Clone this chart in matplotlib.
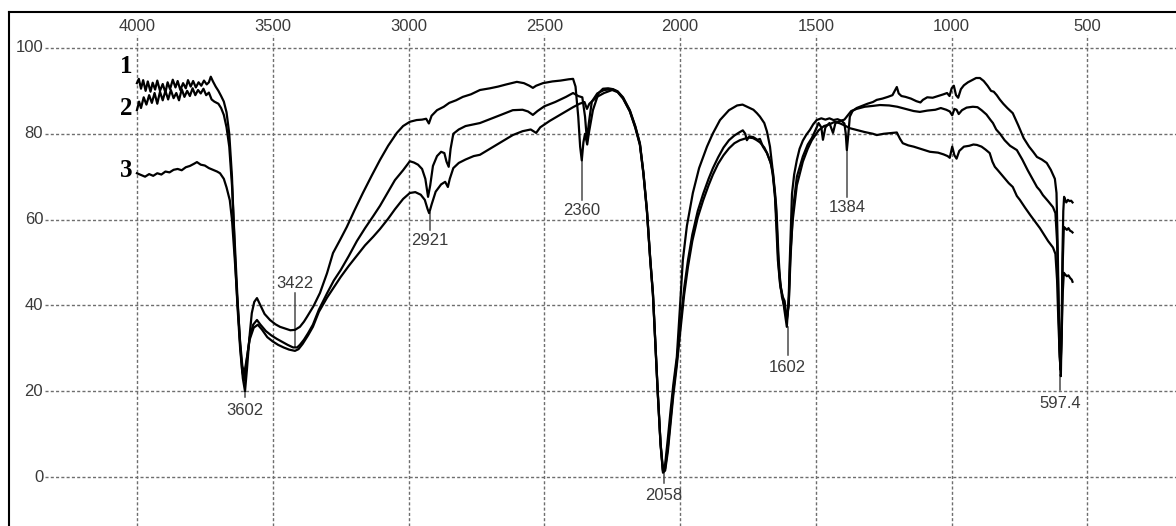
import numpy as np
import matplotlib.pyplot as plt

plt.rcParams['font.family'] = ['Liberation Sans', 'DejaVu Sans']

# IR spectra: (wavenumber cm-1, transmittance %)
curve1 = [(4000, 91.8), (3993, 92.8), (3985, 90.5), (3977, 92.5), (3968, 90.0), (3960, 92.2), (3950, 89.8), (3942, 91.9),
          (3933, 90.3), (3925, 92.4), (3915, 90.0), (3905, 91.6), (3895, 89.6), (3887, 92.0), (3878, 90.4), (3868, 92.6),
          (3858, 90.8), (3850, 92.3), (3840, 90.2), (3830, 91.8), (3820, 90.6), (3812, 92.5), (3802, 91.0), (3793, 92.3),
          (3783, 90.8), (3773, 92.0), (3763, 91.2), (3753, 92.4), (3743, 91.5), (3735, 92.0), (3728, 93.3), (3720, 92.2),
          (3710, 91.0), (3700, 90.0), (3690, 88.8), (3680, 87.5), (3670, 85.0), (3660, 80.0), (3650, 70.0), (3640, 53.0),
          (3630, 40.0), (3620, 30.0), (3610, 23.0), (3602, 20.0), (3595, 25.0), (3585, 33.0), (3577, 38.2), (3568, 40.8),
          (3558, 41.7), (3545, 40.0), (3530, 38.0), (3510, 36.6), (3490, 35.6), (3473, 35.0), (3450, 34.5), (3435, 34.2),
          (3418, 34.3), (3400, 35.0), (3385, 36.2), (3374, 37.3), (3350, 39.8), (3326, 42.9), (3300, 47.5), (3278, 52.2),
          (3250, 55.5), (3227, 58.3), (3200, 62.0), (3168, 66.2), (3135, 70.3), (3105, 73.9), (3075, 77.2), (3043, 80.2),
          (3020, 81.8), (2995, 82.8), (2970, 83.2), (2950, 83.3), (2935, 83.5), (2925, 82.4), (2915, 84.2), (2895, 85.5),
          (2870, 86.3), (2850, 87.2), (2825, 87.8), (2800, 88.6), (2770, 89.2), (2737, 90.2), (2700, 90.6), (2670, 91.0),
          (2640, 91.5), (2601, 92.1), (2575, 91.8), (2555, 91.2), (2542, 90.7), (2530, 91.2), (2505, 91.8), (2470, 92.2),
          (2440, 92.4), (2410, 92.7), (2394, 92.8), (2385, 91.0), (2375, 84.0), (2368, 77.0), (2362, 73.8), (2356, 78.0),
          (2350, 80.0), (2342, 77.5), (2335, 80.5), (2321, 85.5), (2300, 89.5), (2284, 90.5), (2265, 90.6), (2247, 90.4),
          (2230, 89.9), (2210, 88.5), (2185, 85.5), (2165, 81.8), (2148, 77.8), (2135, 71.0), (2122, 62.2), (2110, 51.0),
          (2100, 42.9), (2090, 30.0), (2082, 19.6), (2072, 8.0), (2063, 1.6), (2055, 3.0), (2045, 9.0), (2035, 15.5),
          (2025, 21.5), (2012, 28.0), (2000, 40.0), (1990, 50.5), (1975, 58.5), (1953, 66.2), (1930, 72.0), (1901, 77.0),
          (1880, 80.0), (1853, 83.2), (1820, 85.5), (1790, 86.6), (1770, 86.8), (1750, 86.2), (1730, 85.6), (1717, 84.8),
          (1706, 84.0), (1690, 82.5), (1680, 80.5), (1669, 77.0), (1660, 72.0), (1651, 66.0), (1640, 50.6), (1632, 45.0),
          (1625, 43.0), (1615, 38.5), (1607, 35.0), (1600, 42.0), (1596, 50.6), (1588, 66.0), (1580, 70.5), (1570, 73.9),
          (1560, 76.5), (1548, 78.4), (1535, 79.8), (1522, 80.9), (1510, 82.2), (1497, 83.2), (1480, 83.6), (1465, 83.3),
          (1450, 83.6), (1435, 83.2), (1420, 83.4), (1405, 83.0), (1395, 82.4), (1390, 80.0), (1386, 76.2), (1381, 79.5),
          (1375, 84.0), (1365, 85.3), (1350, 86.0), (1330, 86.5), (1310, 87.0), (1290, 87.4), (1276, 87.9), (1255, 88.2),
          (1235, 88.6), (1218, 89.0), (1208, 90.2), (1202, 90.9), (1195, 89.4), (1185, 88.8), (1170, 88.6), (1150, 88.2),
          (1130, 87.6), (1115, 87.3), (1106, 87.9), (1090, 88.5), (1070, 88.4), (1050, 88.8), (1030, 89.2), (1017, 89.5),
          (1008, 88.8), (1000, 90.6), (992, 91.2), (984, 89.0), (976, 88.4), (966, 90.4), (955, 91.3), (940, 92.0),
          (925, 92.5), (910, 93.0), (896, 93.0), (882, 92.3), (868, 91.2), (855, 90.0), (845, 89.8), (834, 89.0),
          (823, 88.0), (810, 87.0), (795, 86.0), (775, 84.8), (755, 82.0), (735, 79.0), (715, 77.0), (700, 75.8),
          (686, 74.6), (668, 74.0), (650, 73.2), (635, 71.6), (627, 70.5), (620, 69.5), (614, 66.2), (610, 55.0),
          (606, 40.0), (602, 28.0), (598, 23.5), (595, 35.0), (592, 52.0), (589, 62.0), (586, 65.3), (582, 64.6),
          (578, 64.0), (572, 64.6), (566, 64.3), (560, 64.4), (555, 64.0)]

curve2 = [(4000, 85.5), (3992, 87.5), (3985, 86.0), (3975, 88.5), (3965, 86.8), (3955, 89.0), (3945, 87.2), (3935, 89.5),
          (3925, 87.0), (3915, 89.8), (3905, 87.8), (3895, 90.0), (3885, 88.0), (3875, 90.2), (3865, 88.3), (3855, 89.5),
          (3845, 87.8), (3835, 90.4), (3825, 88.6), (3815, 90.0), (3805, 88.8), (3795, 90.6), (3785, 89.0), (3775, 90.2),
          (3765, 89.4), (3755, 90.5), (3745, 89.0), (3735, 89.6), (3725, 88.0), (3715, 87.5), (3700, 87.0), (3690, 86.0),
          (3680, 84.4), (3670, 81.5), (3660, 77.0), (3650, 68.0), (3640, 55.0), (3630, 42.0), (3620, 31.0), (3612, 24.5),
          (3604, 22.5), (3596, 27.0), (3585, 32.5), (3572, 35.5), (3558, 36.6), (3545, 35.5), (3525, 34.0), (3505, 33.0),
          (3485, 32.2), (3465, 31.5), (3445, 30.8), (3425, 30.2), (3410, 30.2), (3400, 30.8), (3385, 32.0), (3370, 33.5),
          (3352, 35.5), (3330, 39.0), (3300, 42.8), (3275, 45.8), (3250, 48.2), (3220, 51.5), (3190, 55.0), (3160, 58.0),
          (3130, 60.8), (3105, 63.2), (3075, 66.5), (3050, 69.2), (3020, 71.5), (2995, 73.6), (2980, 73.3), (2965, 72.8),
          (2950, 71.8), (2938, 69.5), (2928, 65.3), (2920, 68.0), (2910, 72.5), (2895, 74.8), (2880, 75.8), (2868, 75.5),
          (2860, 73.5), (2852, 72.3), (2845, 76.5), (2835, 80.0), (2815, 81.0), (2790, 81.8), (2760, 82.2), (2737, 82.5),
          (2700, 83.4), (2660, 84.4), (2616, 85.5), (2580, 85.6), (2560, 85.2), (2542, 84.4), (2525, 85.3), (2500, 86.4),
          (2460, 87.4), (2420, 88.6), (2394, 89.5), (2375, 88.8), (2360, 88.5), (2350, 84.0), (2343, 78.5), (2336, 82.5),
          (2325, 87.5), (2305, 89.4), (2280, 90.2), (2250, 90.4), (2230, 89.8), (2210, 88.3), (2185, 85.3), (2165, 81.6),
          (2148, 77.6), (2135, 70.8), (2122, 62.0), (2110, 50.8), (2100, 42.7), (2090, 29.8), (2082, 19.4), (2072, 7.8),
          (2063, 1.3), (2055, 2.0), (2045, 7.0), (2035, 13.5), (2025, 20.0), (2012, 27.0), (2000, 35.0), (1985, 44.0),
          (1971, 50.5), (1955, 56.5), (1935, 62.0), (1915, 66.0), (1895, 69.5), (1879, 72.0), (1860, 74.5), (1840, 76.8),
          (1820, 78.5), (1800, 79.6), (1780, 80.4), (1769, 80.8), (1760, 80.0), (1754, 78.5), (1745, 79.4), (1730, 79.2),
          (1715, 78.6), (1706, 78.8), (1695, 77.0), (1680, 75.5), (1665, 73.0), (1658, 70.0), (1650, 65.0), (1645, 60.0),
          (1638, 50.0), (1630, 44.0), (1622, 42.0), (1615, 41.0), (1607, 36.5), (1600, 40.0), (1594, 50.0), (1585, 62.0),
          (1570, 70.0), (1548, 74.7), (1530, 77.5), (1515, 79.0), (1504, 80.5), (1490, 82.5), (1480, 81.5), (1474, 78.6),
          (1465, 81.5), (1450, 82.5), (1437, 80.2), (1428, 82.5), (1410, 83.0), (1395, 83.3), (1380, 84.5), (1370, 85.3),
          (1350, 85.8), (1320, 86.3), (1290, 86.5), (1264, 86.7), (1230, 86.6), (1200, 86.3), (1170, 85.8), (1140, 85.3),
          (1117, 85.1), (1090, 85.4), (1060, 85.6), (1040, 86.0), (1020, 85.6), (1007, 85.2), (998, 84.3), (990, 85.8),
          (982, 85.6), (974, 84.6), (962, 85.5), (945, 86.1), (922, 86.3), (905, 86.2), (890, 85.5), (872, 84.5),
          (858, 83.3), (848, 82.5), (836, 81.0), (822, 80.0), (805, 78.5), (785, 77.2), (760, 76.2), (740, 74.0),
          (720, 71.5), (700, 69.2), (686, 67.6), (675, 66.8), (664, 65.7), (645, 64.3), (627, 62.9), (618, 61.5),
          (612, 55.0), (607, 42.0), (603, 30.0), (599, 26.0), (595, 34.0), (591, 50.0), (587, 58.3), (582, 58.0),
          (576, 57.6), (570, 58.0), (564, 57.4), (558, 57.2), (555, 57.0)]

curve3 = [(4000, 70.8), (3985, 70.4), (3970, 70.0), (3955, 70.6), (3940, 70.2), (3925, 70.8), (3910, 70.5), (3895, 71.2),
          (3880, 71.0), (3865, 71.6), (3850, 71.8), (3835, 71.5), (3820, 72.2), (3805, 72.5), (3790, 73.0), (3779, 73.4),
          (3765, 72.8), (3750, 72.6), (3735, 72.0), (3720, 71.6), (3705, 71.2), (3694, 70.8), (3680, 69.5), (3670, 67.5),
          (3658, 64.5), (3650, 60.0), (3640, 51.0), (3630, 41.0), (3620, 31.5), (3612, 26.0), (3605, 24.0), (3597, 27.0),
          (3585, 32.0), (3570, 34.8), (3555, 35.5), (3540, 34.4), (3520, 32.6), (3500, 31.6), (3480, 30.8), (3460, 30.2),
          (3440, 29.7), (3418, 29.4), (3405, 29.8), (3390, 31.0), (3370, 33.0), (3352, 35.0), (3330, 38.5), (3300, 41.8),
          (3275, 44.2), (3250, 46.6), (3220, 49.2), (3190, 51.6), (3160, 54.0), (3130, 56.0), (3105, 57.8), (3075, 60.2),
          (3050, 62.4), (3020, 64.8), (2995, 66.2), (2975, 66.4), (2955, 65.8), (2940, 64.6), (2930, 62.5), (2924, 61.5),
          (2915, 63.5), (2900, 66.5), (2880, 68.2), (2865, 68.8), (2855, 67.6), (2848, 69.5), (2835, 72.0), (2815, 73.2),
          (2790, 74.0), (2760, 74.8), (2737, 75.1), (2700, 76.5), (2660, 78.0), (2616, 79.7), (2580, 80.6), (2550, 81.0),
          (2530, 80.2), (2515, 81.5), (2480, 83.0), (2440, 84.5), (2394, 86.2), (2370, 87.0), (2352, 87.4), (2343, 85.8),
          (2334, 87.0), (2306, 88.6), (2280, 89.5), (2250, 90.2), (2230, 89.7), (2210, 88.2), (2185, 85.2), (2165, 81.4),
          (2148, 77.4), (2135, 70.6), (2122, 61.8), (2110, 50.6), (2100, 42.5), (2090, 29.6), (2082, 19.2), (2072, 7.6),
          (2063, 1.0), (2055, 1.5), (2045, 6.0), (2035, 12.5), (2025, 19.0), (2012, 26.0), (2000, 33.5), (1985, 42.5),
          (1971, 49.0), (1955, 55.0), (1935, 60.5), (1915, 64.5), (1895, 68.0), (1879, 70.5), (1860, 73.0), (1840, 75.0),
          (1820, 76.6), (1800, 77.8), (1780, 78.5), (1760, 78.9), (1745, 79.1), (1732, 79.0), (1720, 78.6), (1706, 78.0),
          (1690, 76.8), (1680, 75.5), (1668, 73.5), (1658, 71.0), (1650, 66.0), (1645, 62.2), (1638, 52.0), (1633, 46.8),
          (1625, 42.0), (1617, 40.0), (1607, 37.0), (1600, 40.5), (1594, 52.0), (1585, 60.0), (1570, 68.0), (1548, 73.5),
          (1530, 76.5), (1515, 78.5), (1504, 79.5), (1490, 80.8), (1470, 81.8), (1450, 82.2), (1430, 82.8), (1410, 82.4),
          (1390, 81.8), (1375, 81.3), (1350, 80.9), (1320, 80.4), (1290, 80.0), (1276, 79.7), (1250, 80.0), (1220, 80.2),
          (1202, 80.3), (1190, 78.8), (1180, 77.8), (1160, 77.3), (1140, 77.0), (1120, 76.6), (1100, 76.2), (1080, 75.8),
          (1050, 75.6), (1030, 75.2), (1015, 74.8), (1007, 74.4), (998, 77.0), (990, 75.0), (982, 74.2), (972, 76.0),
          (955, 77.0), (935, 77.2), (920, 77.5), (907, 77.4), (890, 77.0), (875, 76.3), (860, 75.5), (850, 73.5),
          (841, 72.3), (830, 71.5), (810, 70.0), (790, 68.5), (775, 67.6), (760, 65.5), (749, 64.6), (730, 62.8),
          (710, 61.0), (690, 59.3), (675, 58.0), (660, 56.5), (645, 55.0), (627, 53.5), (618, 52.0), (612, 46.0),
          (607, 36.0), (602, 28.0), (599, 25.0), (595, 33.0), (591, 43.0), (587, 47.6), (582, 47.2), (576, 46.8),
          (570, 47.0), (564, 46.4), (558, 46.0), (555, 45.5)]

curve_names = ['1', '2', '3']
curve_name_y = [95.6, 85.8, 71.4]

# peak annotations: label, wavenumber, leader line from/to, label height
peak_text = ['3602', '3422', '2921', '2360', '2058', '1602', '1384', '597.4']
peak_wn = [3602, 3418, 2921, 2362, 2060, 1604, 1386, 600]
lead_y0 = [23.3, 42.9, 61.5, 73.9, 1.6, 35.0, 76.2, 23.8]
lead_y1 = [18.6, 30.3, 57.6, 64.6, -1.4, 28.4, 65.3, 20.3]
label_y = [15.6, 45.2, 55.2, 62.2, -4.2, 25.6, 62.7, 17.2]

x_ticks = [4000, 3500, 3000, 2500, 2000, 1500, 1000, 500]
y_ticks = [0, 20, 40, 60, 80, 100]

fig = plt.figure(figsize=(11.76, 5.26), dpi=100)
ax = fig.add_axes([9 / 1176, 0, 1 - 9 / 1176, 514.5 / 526])
ax.set_xlim(4471, 174)
ax.set_ylim(-11.42, 108.5)

grid_kw = dict(colors='#6e6e6e', linewidth=1.0, linestyles=(0, (2.2, 1.6)), zorder=1)
ax.hlines(y_ticks, 4338, 174, **grid_kw)
ax.vlines(x_ticks, -11.42, 103, **grid_kw)

for v in y_ticks:
    ax.text(4345, v, str(v), ha='right', va='center', fontsize=12, color='#3a3a3a')
for v in x_ticks:
    ax.text(v, 104.9, str(v), ha='center', va='center', fontsize=12, color='#3a3a3a')

for c in [curve1, curve2, curve3]:
    arr = np.array(c)
    ax.plot(arr[:, 0], arr[:, 1], color='black', lw=1.6, zorder=3)

for name, y in zip(curve_names, curve_name_y):
    ax.text(4015, y, name, ha='right', va='center', fontsize=18, fontweight='bold',
            family=['Liberation Serif', 'DejaVu Serif'], color='black')

for t, x, y0, y1, yl in zip(peak_text, peak_wn, lead_y0, lead_y1, label_y):
    ax.plot([x, x], [y0, y1], color='#4a4a4a', lw=1.1, zorder=2)
    ax.text(x, yl, t, ha='center', va='center', fontsize=12, color='#3a3a3a')

ax.set_xticks([])
ax.set_yticks([])
for s in ['right', 'bottom']:
    ax.spines[s].set_visible(False)
for s in ['left', 'top']:
    ax.spines[s].set_linewidth(1.5)

fig.savefig('out.png', dpi=100)
